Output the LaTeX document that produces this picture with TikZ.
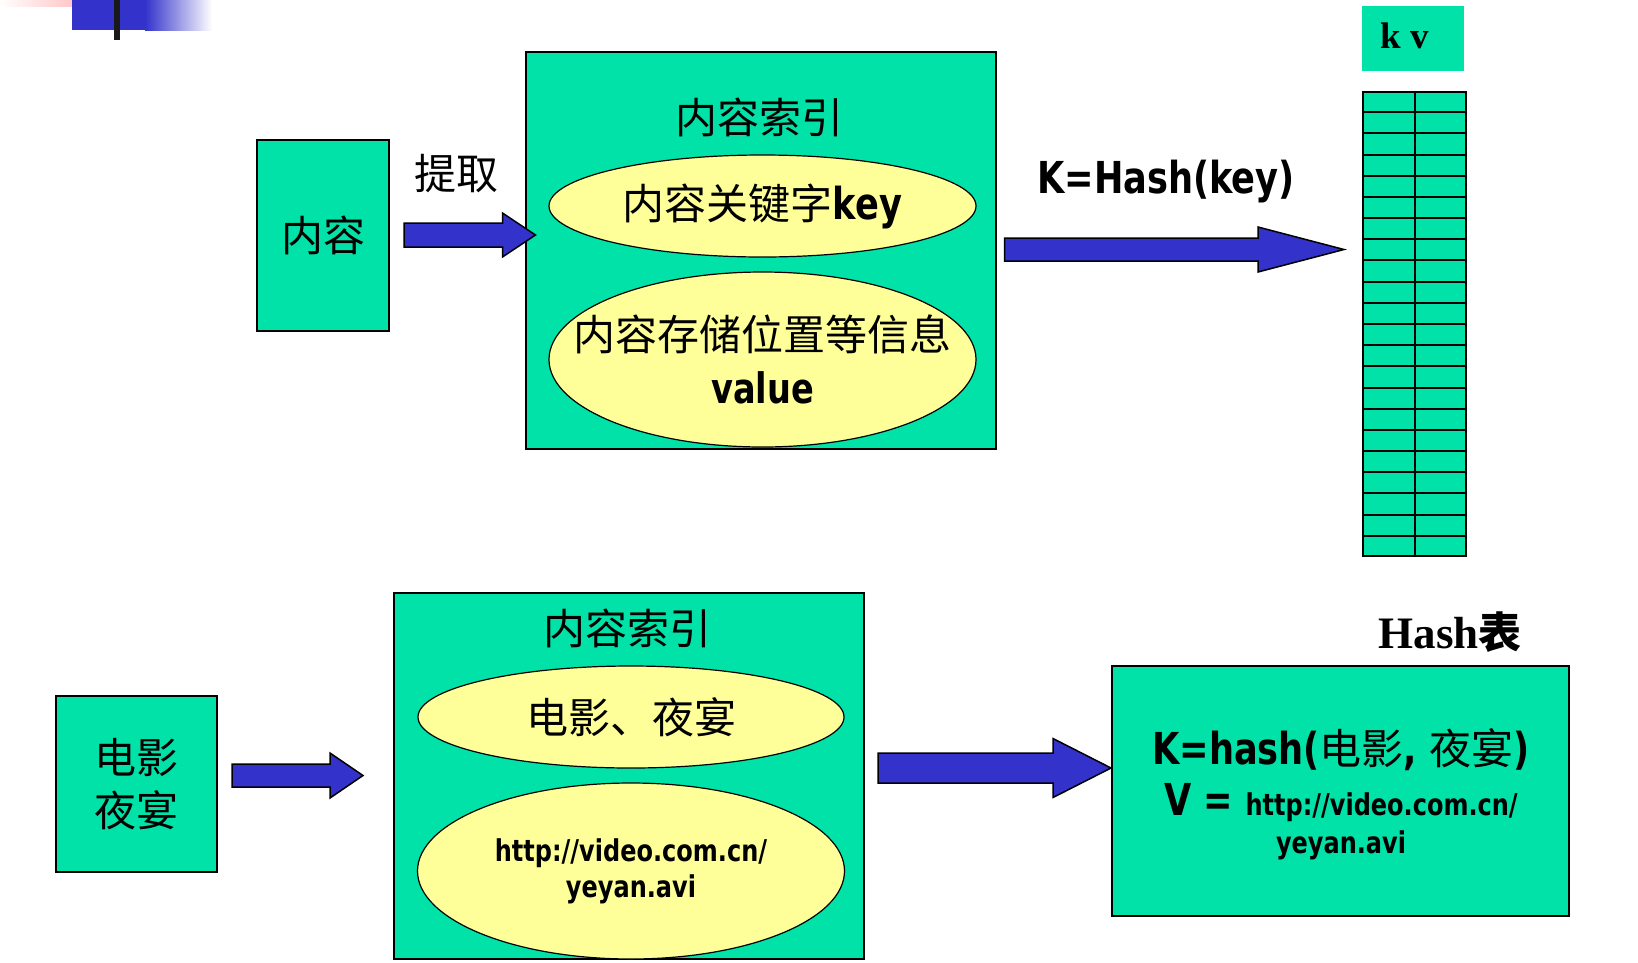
\documentclass[tikz,border=0pt]{standalone}
\usepackage{fontspec}
\setmainfont{Liberation Serif}
\newfontfamily\cjk{Noto Sans CJK SC}
\newfontfamily\tahoma[FakeStretch=0.8]{DejaVu Sans}
\newcommand{\tb}{\tahoma\bfseries}
\usetikzlibrary{shapes.geometric, calc, positioning}
\definecolor{boxgreen}{RGB}{0,226,168}
\definecolor{ovalyellow}{RGB}{255,255,153}
\definecolor{arrowblue}{RGB}{51,51,204}
\tikzstyle{greenbox} = [rectangle, draw, line width=2pt, fill=boxgreen, inner sep=0pt, align=center]
\tikzstyle{oval} = [ellipse, draw, line width=1.2pt, fill=ovalyellow, inner sep=0pt, align=center]
\tikzstyle{fat} = [draw, line width=1.5pt, fill=arrowblue, line join=miter]
\tikzstyle{zh} = [font=\cjk\fontsize{42}{53}\selectfont]
\tikzstyle{url} = [font=\tb\fontsize{30}{36}\selectfont]
\newcommand{\fatarrow}[5]{\draw[fat] ($(#1)+(0,#4)$) -- ($(#2)+(-#3,#4)$) -- ($(#2)+(-#3,#5)$) -- (#2) -- ($(#2)+(-#3,-#5)$) -- ($(#2)+(-#3,-#4)$) -- ($(#1)+(0,-#4)$) -- cycle;}

\begin{document}
\begin{tikzpicture}[x=1pt, y=-1pt]
    \useasboundingbox (0,0) rectangle (1638,962);
    \shade[left color=white, right color=red!30] (0,0) rectangle (100,6);
    \fill[arrowblue] (72,0) rectangle (146,30);
    \shade[left color=arrowblue, right color=white] (145,0) rectangle (212,30);
    \fill[black!90] (114,0) rectangle (120,40);

    \node[greenbox, zh, minimum width=132, minimum height=191] (content) at (323,235.5) {内容};
    \node[zh] (extract) at (456,174) {提取};
    \node[greenbox, minimum width=470, minimum height=397] (index) at (760.5,250.5) {};
    \node[zh] (indextitle) at (759,117) {内容索引};
    \node[oval, zh, minimum width=427, minimum height=102] (keyoval) at (762.5,206) {内容关键字{\tb\fontsize{44}{53}\selectfont key}};
    \node[oval, minimum width=427, minimum height=175] (valueoval) at (762.5,359.5) {};
    \node[zh, align=center] (valuetext) at (valueoval.center) {内容存储位置等信息\\{\tb\fontsize{42}{53}\selectfont value}};
    \node[font=\tb\fontsize{44}{50}\selectfont] (hashkey) at (1166,182) {K=Hash(key)};
    \node[rectangle, fill=boxgreen, minimum width=102, minimum height=65] (kv) at (1413,38.5) {};
    \node[font=\bfseries\fontsize{37}{40}\selectfont] (kvlabel) at (1405,36) {k v};
    \node[greenbox, minimum width=103, minimum height=464] (table) at (1414.5,324) {};
    \foreach \i in {1,...,21}
        \draw[line width=2pt] ($(table.north west)!\i/22!(table.south west)$) -- ($(table.north east)!\i/22!(table.south east)$);
    \draw[line width=2pt] (table.north) -- (table.south);

    \coordinate (a1s) at ($(content.east)+(14,-0.5)$);
    \coordinate (a1t) at ($(index.west)+(11,-15.5)$);
    \fatarrow{a1s}{a1t}{33}{12}{22}
    \coordinate (a2s) at ($(index.east)+(8,-1)$);
    \coordinate (a2t) at ($(table.west)+(-18,-74.5)$);
    \fatarrow{a2s}{a2t}{86}{11.5}{22.5}

    \node[greenbox, zh, minimum width=161, minimum height=176] (film) at (136.5,784) {电影\\夜宴};
    \node[greenbox, minimum width=470, minimum height=366] (index2) at (629,776) {};
    \node[zh] (index2title) at (627,628) {内容索引};
    \node[oval, zh, minimum width=426, minimum height=102] (keyoval2) at (631,717) {电影、夜宴};
    \node[oval, url, minimum width=427, minimum height=176] (valueoval2) at (631,871) {http://video.com.cn/\\yeyan.avi};
    \node[greenbox, minimum width=457, minimum height=250] (hashbox) at (1340.5,791) {};
    \node[font=\bfseries\fontsize{45}{50}\selectfont] (hashtitle) at (1450,632) {Hash{\cjk\fontsize{43}{50}\selectfont 表}};
    \node[anchor=base, font=\tb\fontsize{44}{50}\selectfont] (hashk) at (1341,764) {K=hash({\cjk\mdseries\fontsize{42}{50}\selectfont 电影}, {\cjk\mdseries\fontsize{42}{50}\selectfont 夜宴})};
    \node[anchor=base, font=\tb\fontsize{44}{50}\selectfont] (hashv) at (1341,815) {V = {\fontsize{30}{33}\selectfont http://video.com.cn/}};
    \node[anchor=base, url] (hashurl) at (1341,853) {yeyan.avi};

    \coordinate (a3s) at ($(film.east)+(14,-8.5)$);
    \coordinate (a3t) at ($(index2.west)+(-30,-0.5)$);
    \fatarrow{a3s}{a3t}{33}{11.5}{22.5}
    \coordinate (a4s) at ($(index2.east)+(13,-8)$);
    \coordinate (a4t) at ($(hashbox.west)+(0,-23)$);
    \fatarrow{a4s}{a4t}{58}{15}{29.5}
\end{tikzpicture}
\end{document}
